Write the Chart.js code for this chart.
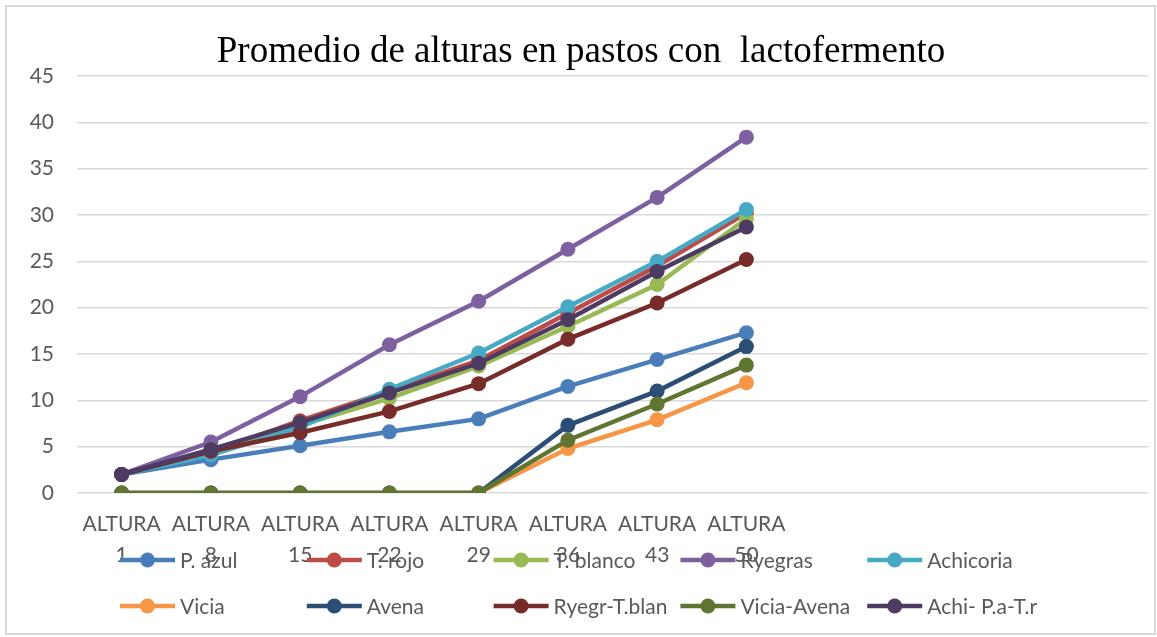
<!DOCTYPE html>
<html>
<head>
<meta charset="utf-8">
<script src="https://cdn.jsdelivr.net/npm/chart.js@4.4.1/dist/chart.umd.min.js"></script>
<style>
  body { margin: 0; background: #fff; overflow: hidden; }
  #frame { position: absolute; left: 5px; top: 5px; width: 1151px; height: 630px; border: 2px solid #D9D9D9; box-sizing: border-box; }
  #chart { position: absolute; left: 0; top: 0; }
</style>
</head>
<body>
<div id="frame"></div>
<canvas id="chart" width="1157" height="637"></canvas>
<script>
// categories (the last four slots are empty in the original sheet)
const dias = ['1', '8', '15', '22', '29', '36', '43', '50'];
const categorias = dias.map(d => ['ALTURA', d]).concat(['', '', '', '']);

const nombres = ['P. azul', 'T. rojo', 'T. blanco', 'Ryegras', 'Achicoria',
                 'Vicia', 'Avena', 'Ryegr-T.blan', 'Vicia-Avena', 'Achi- P.a-T.r'];

const pAzul      = [2, 3.6, 5.1, 6.6, 8.0, 11.5, 14.4, 17.3];
const tRojo      = [2, 4.4, 7.8, 11.0, 14.3, 19.4, 24.5, 30.2];
const tBlanco    = [2, 4.4, 7.3, 10.2, 13.7, 18.0, 22.5, 29.6];
const ryegras    = [2, 5.5, 10.4, 16.0, 20.7, 26.3, 31.9, 38.4];
const achicoria  = [2, 4.1, 7.1, 11.2, 15.1, 20.1, 25.0, 30.6];
const vicia      = [0, 0, 0, 0, 0, 4.8, 7.9, 11.9];
const avena      = [0, 0, 0, 0, 0, 7.3, 11.0, 15.8];
const ryegrTBlan = [2, 4.5, 6.5, 8.8, 11.8, 16.6, 20.5, 25.2];
const viciaAvena = [0, 0, 0, 0, 0, 5.7, 9.6, 13.8];
const achiPaTr   = [2, 4.7, 7.6, 10.8, 14.0, 18.7, 23.9, 28.7];

const series = [pAzul, tRojo, tBlanco, ryegras, achicoria, vicia, avena, ryegrTBlan, viciaAvena, achiPaTr];
const colores = ['#4A7EBB', '#BE4B48', '#98B954', '#7D60A0', '#46AAC5',
                 '#F79646', '#2C4D75', '#772C2A', '#5F7530', '#4D3B62'];

const gris = '#595959';
const fuente = 'Lato, "Open Sans", sans-serif';

// last series is painted on top, like in the spreadsheet
const datasets = series.map((vals, i) => ({
  label: nombres[i],
  data: vals,
  borderColor: colores[i],
  backgroundColor: colores[i],
  pointBackgroundColor: colores[i],
  pointBorderColor: colores[i],
  borderWidth: 4.5,
  pointRadius: 7.5,
  pointBorderWidth: 0,
  tension: 0,
  order: series.length - i
}));

// title + legend drawn by hand: fixed columns like the original
const extras = {
  id: 'extras',
  afterDraw(chart) {
    const ctx = chart.ctx;
    ctx.save();
    ctx.fillStyle = '#000';
    ctx.font = '37px "Liberation Serif", "Times New Roman", serif';
    ctx.textAlign = 'center';
    ctx.textBaseline = 'alphabetic';
    ctx.fillText('Promedio de alturas en pastos con  lactofermento', 581, 62);

    ctx.font = '21px ' + fuente;
    ctx.textAlign = 'left';
    ctx.textBaseline = 'middle';
    nombres.forEach((n, i) => {
      const x = 120 + (i % 5) * 186.8;
      const y = i < 5 ? 560 : 606;
      ctx.strokeStyle = colores[i];
      ctx.lineWidth = 4.5;
      ctx.beginPath();
      ctx.moveTo(x, y);
      ctx.lineTo(x + 55, y);
      ctx.stroke();
      ctx.fillStyle = colores[i];
      ctx.beginPath();
      ctx.arc(x + 27.5, y, 7.5, 0, Math.PI * 2);
      ctx.fill();
      ctx.fillStyle = gris;
      ctx.fillText(n, x + 60, y + 1);
    });
    ctx.restore();
  }
};

new Chart(document.getElementById('chart'), {
  type: 'line',
  data: { labels: categorias, datasets: datasets },
  options: {
    responsive: false,
    animation: false,
    layout: { padding: { top: 76, right: 9, bottom: 0, left: 0 } },
    plugins: {
      legend: { display: false },
      title: { display: false },
      tooltip: { enabled: false }
    },
    scales: {
      x: {
        offset: true,
        grid: { display: false, drawTicks: false },
        border: { display: false },
        ticks: {
          color: gris,
          font: { family: fuente, size: 21, lineHeight: 1.5 },
          padding: 15,
          maxRotation: 0,
          autoSkip: false
        },
        afterFit(scale) { scale.height = 144; }
      },
      y: {
        min: 0,
        max: 45,
        grid: { color: '#D9D9D9', lineWidth: 1.5, drawTicks: false },
        border: { display: false },
        ticks: {
          stepSize: 5,
          color: gris,
          font: { family: fuente, size: 21 },
          padding: 23
        },
        afterFit(scale) { scale.width = 77; }
      }
    }
  },
  plugins: [extras]
});
</script>
</body>
</html>
